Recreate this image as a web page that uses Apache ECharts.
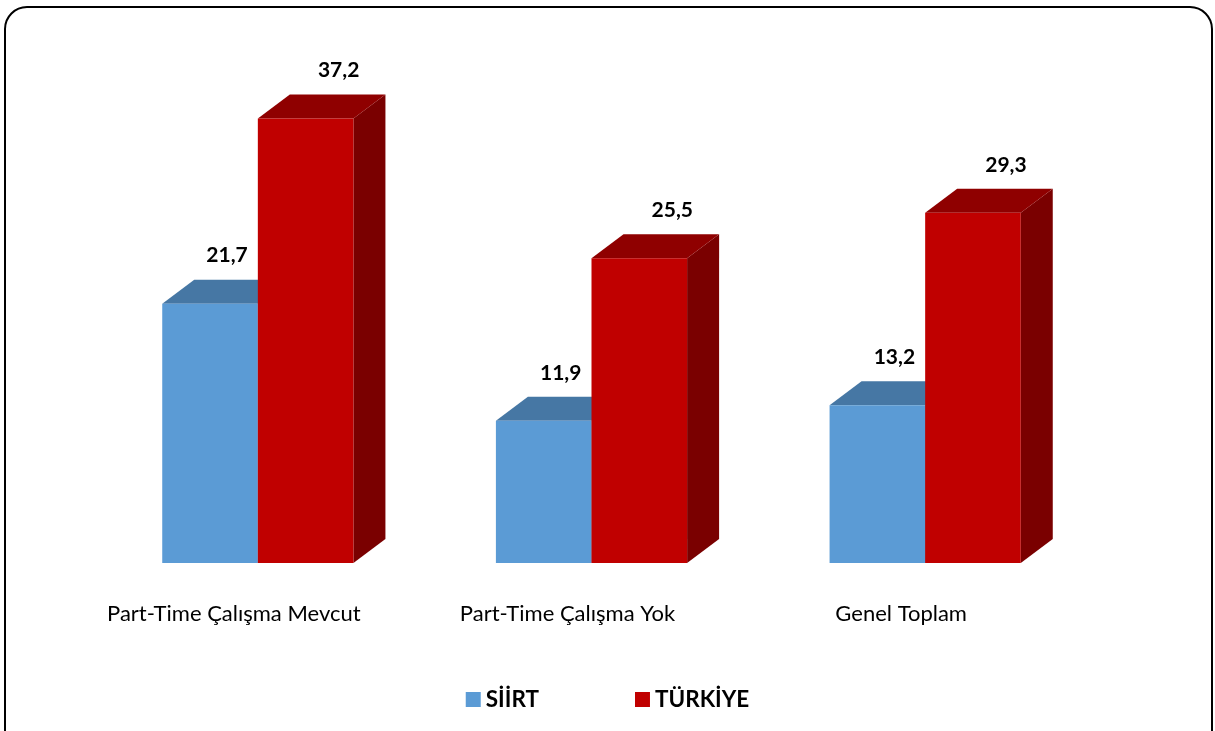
<!DOCTYPE html>
<html>
<head>
<meta charset="utf-8">
<script src="https://cdn.jsdelivr.net/npm/echarts@6/dist/echarts.min.js"></script>
<style>
html,body{margin:0;padding:0;background:#fff;}
#chart{width:1215px;height:731px;}
</style>
</head>
<body>
<div id="chart"></div>
<script>
const categories = ['Part-Time Çalışma Mevcut', 'Part-Time Çalışma Yok', 'Genel Toplam'];
const seriesNames = ['SİİRT', 'TÜRKİYE'];
const siirtValues = [21.7, 11.9, 13.2];
const turkiyeValues = [37.2, 25.5, 29.3];

const FONT = 'Lato, "Open Sans", sans-serif';
const DX = 32, DY = 24;
const palettes = [
  {front: '#5B9BD5', top: '#4677A4', side: '#3F6A93', labelDx: 17},
  {front: '#C00000', top: '#8F0000', side: '#7A0000', labelDx: 33}
];

function makeRender(si) {
  return function (params, api) {
    const cat = api.value(0), val = api.value(1);
    const base = api.coord([cat, 0]);
    const top = api.coord([cat, val]);
    const bandW = api.size([1, 0])[0];
    const w = bandW * 0.2865;
    const x0 = si === 0 ? base[0] - w : base[0];
    const x1 = x0 + w;
    const yb = base[1], yt = top[1];
    const p = palettes[si];
    return {
      type: 'group',
      children: [
        {type: 'polygon', shape: {points: [[x1, yt], [x1 + DX, yt - DY], [x1 + DX, yb - DY], [x1, yb]]}, style: {fill: p.side}},
        {type: 'polygon', shape: {points: [[x0, yt], [x1, yt], [x1 + DX, yt - DY], [x0 + DX, yt - DY]]}, style: {fill: p.top}},
        {type: 'rect', shape: {x: x0, y: yt, width: w, height: yb - yt}, style: {fill: p.front}},
        {type: 'text', style: {
          text: String(val).replace('.', ','),
          x: (x0 + x1) / 2 + p.labelDx, y: yt - DY - 24,
          align: 'center', verticalAlign: 'middle',
          font: 'bold 21px ' + FONT, fill: '#000'
        }}
      ]
    };
  };
}

const chart = echarts.init(document.getElementById('chart'), null, {renderer: 'canvas'});
chart.setOption({
  backgroundColor: '#fff',
  animation: false,
  graphic: [{
    type: 'rect', z: -1,
    shape: {x: 5, y: 7, width: 1207, height: 745, r: 22},
    style: {fill: 'none', stroke: '#000', lineWidth: 2}
  }],
  grid: {left: 91, right: 123, top: 85, height: 478, containLabel: false},
  xAxis: {
    type: 'category',
    data: categories,
    axisLine: {show: false},
    axisTick: {show: false},
    axisLabel: {
      margin: 40, fontSize: 22, color: '#000', fontFamily: FONT,
      padding: [0, 48, 0, 0]
    }
  },
  yAxis: {type: 'value', min: 0, max: 40, show: false, splitLine: {show: false}},
  legend: {
    top: 683, left: 'center',
    itemWidth: 15, itemHeight: 15, itemGap: 96,
    icon: 'rect',
    textStyle: {fontSize: 22.5, fontWeight: 'bold', color: '#000', fontFamily: FONT},
    data: seriesNames
  },
  series: [
    {name: seriesNames[0], type: 'custom', renderItem: makeRender(0),
     itemStyle: {color: palettes[0].front}, encode: {x: 0, y: 1},
     data: siirtValues.map((v, i) => [i, v])},
    {name: seriesNames[1], type: 'custom', renderItem: makeRender(1),
     itemStyle: {color: palettes[1].front}, encode: {x: 0, y: 1},
     data: turkiyeValues.map((v, i) => [i, v])}
  ]
});
</script>
</body>
</html>
